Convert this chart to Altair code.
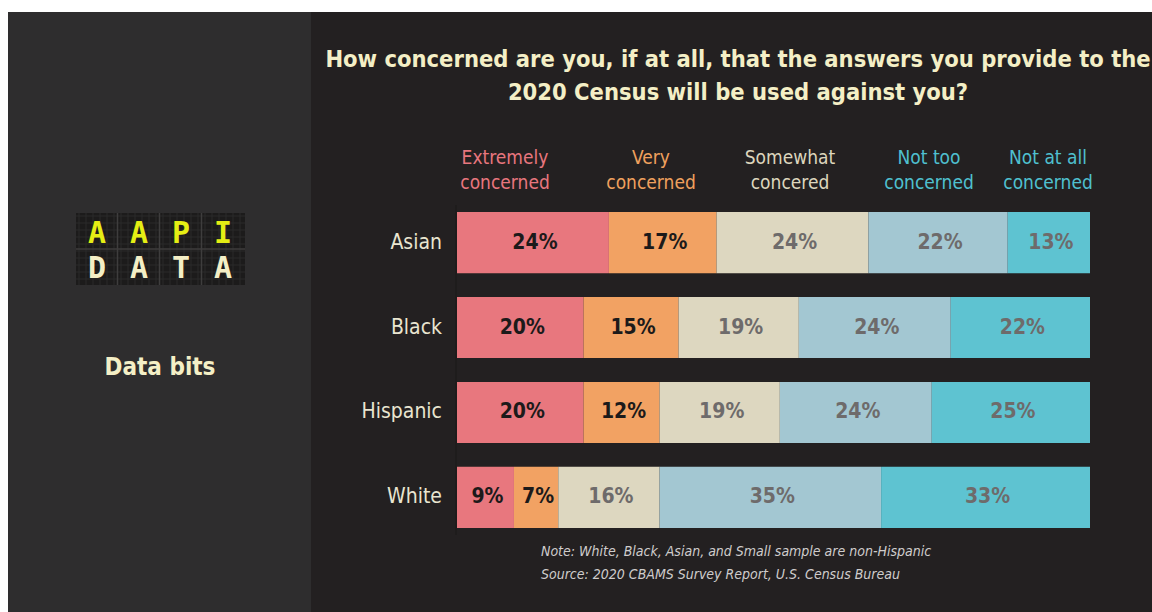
import altair as alt
import pandas as pd

# ---------------- data ----------------
races = ["Asian", "Black", "Hispanic", "White"]
levels = ["Extremely concerned", "Very concerned", "Somewhat concered",
          "Not too concerned", "Not at all concerned"]
header_text = ["Extremely\nconcerned", "Very\nconcerned", "Somewhat\nconcered",
               "Not too\nconcerned", "Not at all\nconcerned"]
asian = [24, 17, 24, 22, 13]
black = [20, 15, 19, 24, 22]
hispanic = [20, 12, 19, 24, 25]
white = [9, 7, 16, 35, 33]
title_lines = ["How concerned are you, if at all, that the answers you provide to the",
               "2020 Census will be used against you?"]
note_lines = ["Note: White, Black, Asian, and Small sample are non-Hispanic",
              "Source: 2020 CBAMS Survey Report, U.S. Census Bureau"]

# ---------------- styles ----------------
bar_colors = ["#e8777e", "#f2a263", "#ddd7c0", "#a3c7d2", "#5ec3d1"]
header_colors = ["#e8767e", "#f0a05e", "#ddd6bd", "#4fc0d0", "#4fc0d0"]
label_colors = ["#1c1a1a", "#1c1a1a", "#6e6b6b", "#6e6b6b", "#6e6b6b"]
header_x = [505, 651, 790, 929, 1048]
FONT = "Liberation Sans Narrow, DejaVu Sans Condensed, Roboto, sans-serif"
CREAM = "#f4efc6"

rows = []
for race, vals in zip(races, [asian, black, hispanic, white]):
    s = 0
    for i, (lvl, v) in enumerate(zip(levels, vals)):
        rows.append(dict(race=race, level=lvl, value=v, start=s, end=s + v,
                         mid=s + v / 2, label=f"{v}%", bcol=bar_colors[i],
                         tcol=label_colors[i]))
        s += v
df = pd.DataFrame(rows)

xs = alt.Scale(domain=[0, 100], range=[457, 1090], nice=False, zero=False)


def yscale():
    return alt.Scale(type="band", domain=races, range=[212, 528],
                     paddingInner=0.28, paddingOuter=0)


one = pd.DataFrame({"a": [0]})


def box(x1, x2, y1, y2, color):
    return alt.Chart(one).mark_rect(color=color).encode(
        x=alt.value(x1), x2=alt.value(x2), y=alt.value(y1), y2=alt.value(y2))


left_panel = box(8, 311, 12, 612, "#2e2d2e")
right_panel = box(311, 1152, 12, 612, "#232021")

# logo
logo_bg = box(76, 245, 213, 285, "#1c1b1b")
gx = list(range(79, 245, 7))
gy = list(range(216, 285, 7))
grid_v = alt.Chart(pd.DataFrame({"x": gx})).mark_rule(color="#2b2a2a", strokeWidth=1).encode(
    x=alt.X("x:Q", scale=None), y=alt.value(213), y2=alt.value(285))
grid_h = alt.Chart(pd.DataFrame({"y": gy})).mark_rule(color="#2b2a2a", strokeWidth=1).encode(
    y=alt.Y("y:Q", scale=None), x=alt.value(76), x2=alt.value(245))
div_v = alt.Chart(pd.DataFrame({"x": [117.5, 159.5, 201.5]})).mark_rule(color="#3e3d3d", strokeWidth=1.5).encode(
    x=alt.X("x:Q", scale=None), y=alt.value(213), y2=alt.value(285))
div_h = alt.Chart(pd.DataFrame({"y": [249]})).mark_rule(color="#3e3d3d", strokeWidth=1.5).encode(
    y=alt.Y("y:Q", scale=None), x=alt.value(76), x2=alt.value(245))
logo_letters = pd.DataFrame({
    "t": list("AAPI") + list("DATA"),
    "x": [97, 139, 181, 223] * 2,
    "y": [243] * 4 + [278] * 4,
    "c": ["#e5ee14"] * 4 + [CREAM] * 4,
})
letters = alt.Chart(logo_letters).mark_text(
    font="DejaVu Sans Mono", fontWeight="bold", fontSize=30, align="center", baseline="alphabetic"
).encode(x=alt.X("x:Q", scale=None), y=alt.Y("y:Q", scale=None),
         text="t:N", color=alt.Color("c:N", scale=None))
databits = alt.Chart(pd.DataFrame({"t": ["Data bits"]})).mark_text(
    font=FONT, fontWeight="bold", fontSize=24, color=CREAM, align="center", baseline="alphabetic"
).encode(x=alt.value(160), y=alt.value(375), text="t:N")

# title
title = alt.Chart(pd.DataFrame({"t": title_lines, "y": [67, 100]})).mark_text(
    font=FONT, fontWeight="bold", fontSize=23.5, color=CREAM, align="center", baseline="alphabetic"
).encode(x=alt.value(738), y=alt.Y("y:Q", scale=None), text="t:N")

# headers
hdf = pd.DataFrame({"t": header_text, "x": header_x, "c": header_colors})
headers = alt.Chart(hdf).mark_text(
    font=FONT, fontSize=19, align="center", baseline="alphabetic", lineBreak="\n", lineHeight=25
).encode(x=alt.X("x:Q", scale=None), y=alt.value(164), text="t:N",
         color=alt.Color("c:N", scale=None))

# bars
bars = alt.Chart(df).mark_bar(strokeWidth=0).encode(
    x=alt.X("start:Q", scale=xs, axis=None),
    x2="end:Q",
    y=alt.Y("race:N", scale=yscale(), axis=None),
    color=alt.Color("bcol:N", scale=None),
)
labels = alt.Chart(df).mark_text(
    font=FONT, fontWeight="bold", fontSize=21, baseline="middle", align="center", dx=2
).encode(
    x=alt.X("mid:Q", scale=xs, axis=None),
    y=alt.Y("race:N", scale=yscale(), axis=None, bandPosition=0.5),
    text="label:N",
    color=alt.Color("tcol:N", scale=None),
)
row_labels = alt.Chart(pd.DataFrame({"race": races})).mark_text(
    font=FONT, fontSize=21, color="#e9e5d0", align="right", baseline="middle"
).encode(x=alt.value(442), y=alt.Y("race:N", scale=yscale(), axis=None, bandPosition=0.5),
         text="race:N")

axis_line = alt.Chart(one).mark_rule(color="#1b1919", strokeWidth=1).encode(
    x=alt.value(456), y=alt.value(205), y2=alt.value(535))

notes = alt.Chart(pd.DataFrame({"t": note_lines, "y": [556, 579]})).mark_text(
    font=FONT, fontStyle="italic", fontSize=14, color="#cfcccc", align="left", baseline="alphabetic"
).encode(x=alt.value(541), y=alt.Y("y:Q", scale=None), text="t:N")

chart = alt.layer(
    left_panel, right_panel, logo_bg, grid_v, grid_h, div_v, div_h, letters, databits,
    title, headers, axis_line, bars, labels, row_labels, notes
).resolve_scale(x="independent", y="independent", color="independent").properties(
    width=1152, height=612, autosize="none", padding=0, background="#ffffff"
).configure_view(stroke=None)

chart.save("out.html", embed_options={"renderer": "svg", "actions": False})
